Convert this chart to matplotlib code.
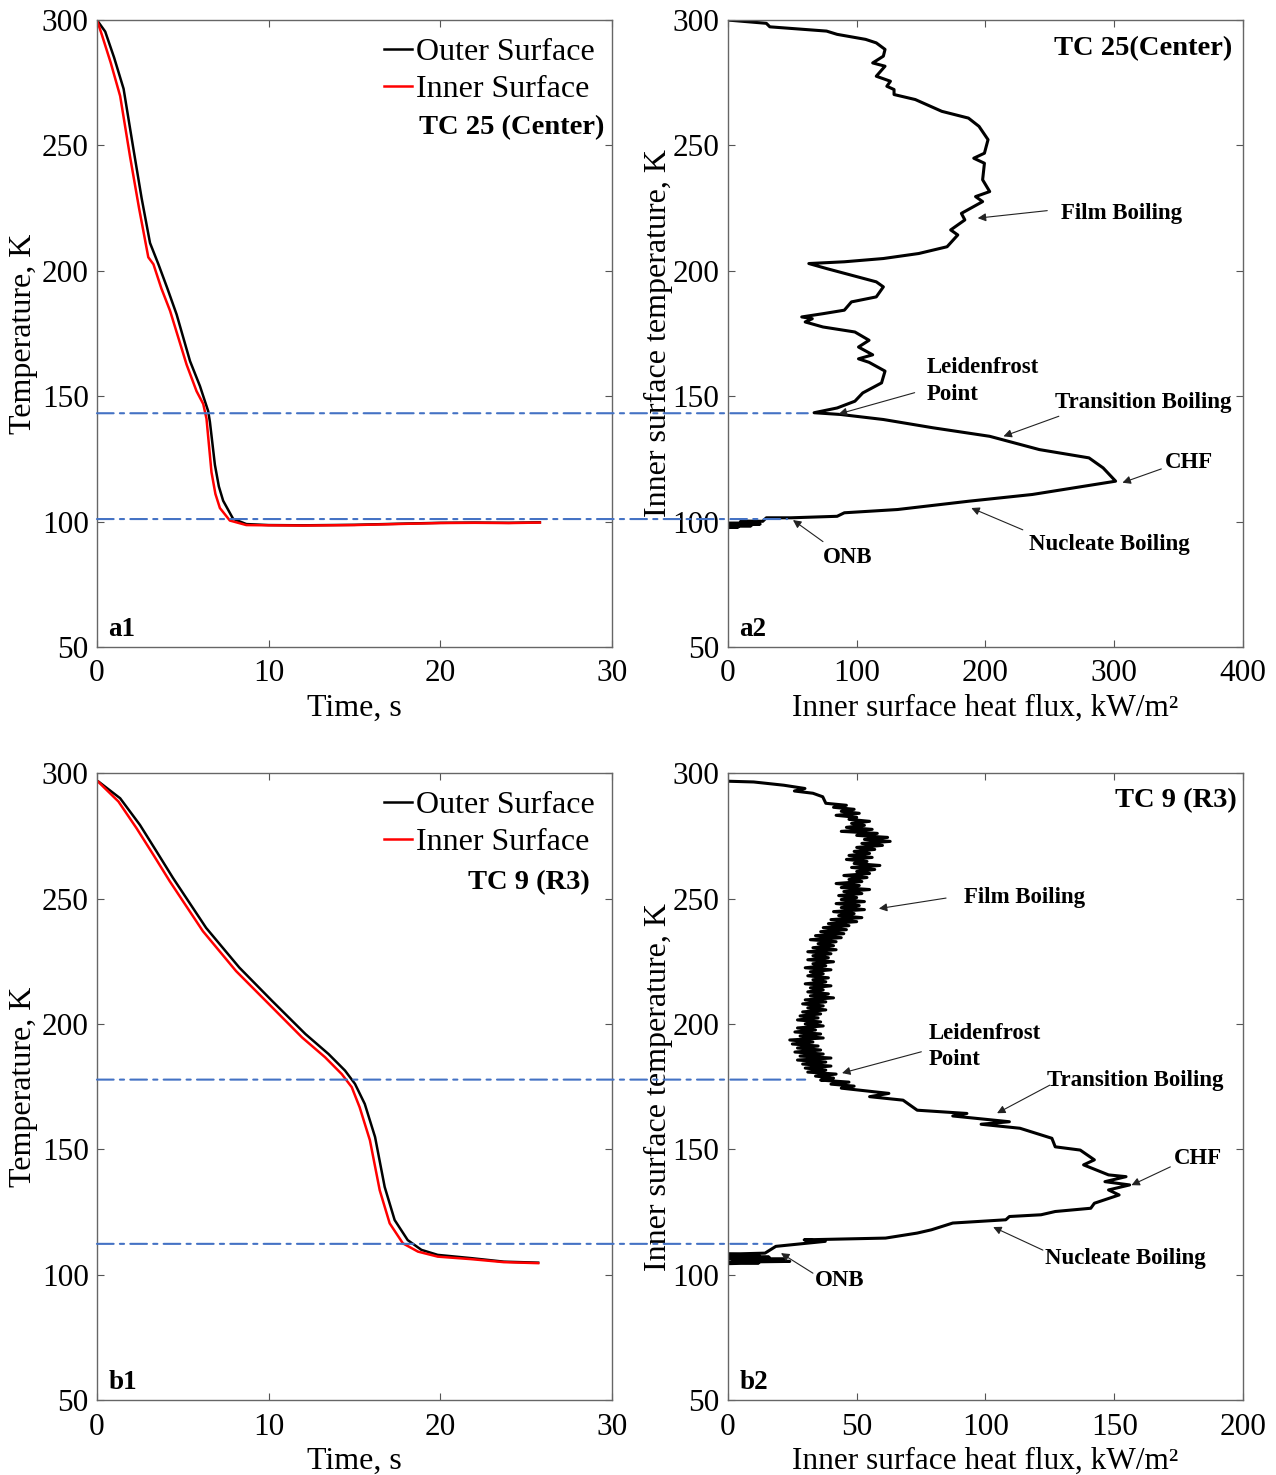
import matplotlib.pyplot as plt
from matplotlib.patches import ConnectionPatch

plt.rcParams['font.family'] = ['Liberation Serif', 'DejaVu Serif']

# ---- a1: TC 25 (Center) temperature history ----
a1_t_outer = [0, 0.48, 1.0, 1.55, 2.13, 2.6, 3.09, 3.58, 4.1, 4.64, 5.42, 6.0, 6.48, 6.58,
              6.87, 7.1, 7.35, 7.93, 8.7, 10, 12, 15, 18, 20, 22, 24, 25.8]
a1_T_outer = [300, 295.4, 285, 272.6, 248.3, 229, 211.1, 202.6, 193, 182.6, 164, 154, 144, 139.7,
              122.6, 114, 108.3, 101.1, 99.0, 98.6, 98.5, 98.7, 99.2, 99.5, 99.6, 99.5, 99.7]
a1_t_inner = [0, 0.29, 0.8, 1.35, 1.93, 2.45, 2.99, 3.29, 3.75, 4.26, 5.22, 5.8, 6.19, 6.38,
              6.67, 6.9, 7.16, 7.74, 8.7, 10, 12, 15, 18, 20, 22, 24, 25.8]
a1_T_inner = [300, 294, 283, 269.7, 245.4, 225, 205.4, 202.6, 193, 184, 162.6, 152, 146.9, 141,
              119.7, 111, 105.4, 100.4, 98.6, 98.5, 98.4, 98.6, 99.1, 99.4, 99.5, 99.4, 99.6]

# ---- a2: TC 25 boiling curve ----
a2_q = [0, 29.8, 32.5, 76.6, 84.8, 106.9, 115.2, 122, 120.7, 112.4, 122, 115.2, 126.2, 123.4, 129,
        129, 145.5, 166.1, 186.8, 195, 202, 199.2, 190.9, 199.2, 197.8, 203.3, 192.3, 197.8, 181.3,
        184, 173, 178.5, 170.2, 148.2, 120.7, 90.4, 62.8, 76.6, 115.2, 120.7, 115.2, 95.9, 90.4,
        73.8, 57.3, 65.5, 60, 73.8, 98.6, 109.6, 101.4, 112.4, 101.4, 109.6, 122, 119.3, 104.7,
        98.6, 84.8, 66.9, 87.6, 120.7, 159.2, 203.3, 241.9, 280.4, 291.4, 301.1, 236.4, 186.8,
        131.7, 90.4, 84.8, 49, 29.8, 27, 10, 22, 0, 25, 0, 18, 0, 8, 0]
a2_T = [300, 298.7, 297.3, 295.6, 294.3, 292.3, 290.9, 288.3, 285.6, 282.9, 281.6, 277.6, 275.6,
        273.6, 272.3, 270.3, 268.3, 263.6, 260.9, 257.6, 252.3, 246.9, 244.9, 242.9, 236.3, 231.6,
        229.6, 227.6, 222.9, 220.3, 216.3, 214.3, 209.6, 206.9, 204.9, 203.6, 202.9, 200.9, 195.6,
        193.6, 189.6, 187.6, 184.3, 182.9, 181.6, 180.9, 179.6, 177.6, 175.6, 172.3, 169.6, 166.5,
        164.9, 163.5, 160, 155.3, 151.3, 148, 145.3, 143.4, 142.7, 140.7, 137.4, 134, 128.7, 125.4,
        121.4, 116.1, 110.8, 108.1, 104.8, 103.5, 102.1, 101.5, 101.5, 100.1, 100.2, 99.6, 99.3,
        99.0, 98.6, 98.3, 98.0, 97.8, 97.6]

# ---- b1: TC 9 (R3) temperature history ----
b1_t_outer = [0, 0.1, 1.35, 2.5, 3.47, 4.43, 6.36, 8.29, 10.2, 12.14, 13.49, 14.45, 15.03, 15.6,
              16.2, 16.76, 17.34, 18.1, 18.9, 19.85, 21.8, 23.7, 25.7]
b1_T_outer = [297, 296.6, 290, 279.4, 268.8, 258.2, 238.3, 222.5, 209.2, 196, 188, 181.4, 176.1,
              168.1, 154.9, 135, 121.8, 113.8, 109.9, 107.9, 106.6, 105.2, 104.8]
b1_t_inner = [0, 0.1, 1.25, 2.31, 3.28, 4.24, 6.17, 8.1, 10.02, 11.95, 13.29, 14.26, 14.84, 15.3,
              15.9, 16.47, 17.05, 17.82, 18.7, 19.85, 21.8, 23.7, 25.7]
b1_T_inner = [297, 296.4, 288.7, 278, 267.5, 256.9, 237, 221.1, 207.9, 194.6, 186.7, 180, 174.8,
              166.8, 153.6, 133.7, 120.5, 112.5, 109.2, 107.2, 106.2, 105, 104.6]

# ---- b2: TC 9 boiling curve ----
b2_q = [0, 10, 21.7, 29.9, 25.8, 33, 36.8, 38, 46, 41, 49, 44, 51, 42, 50, 47, 55, 48, 53, 46, 56,
        44, 58, 50, 62, 53, 63, 52, 60, 50, 57, 49, 55, 47, 56, 46, 54, 49, 59, 48, 57, 50, 55, 45,
        54, 47, 52, 42, 51, 44, 55, 45, 52, 43, 50, 44, 53, 42, 51, 44, 53, 41, 49, 43, 52, 40, 50,
        39, 47, 37, 46, 36, 45, 34, 44, 32, 42, 35, 41, 33, 42, 31, 40, 33, 39, 31, 41, 33, 38, 30,
        40, 32, 37, 31, 39, 33, 38, 30, 40, 32, 37, 31, 39, 32, 41, 30, 38, 29, 37, 31, 38, 29, 36,
        28, 35, 27, 36, 30, 37, 27, 34, 26, 36, 28, 37, 24, 33, 25, 35, 27, 36, 26, 37, 28, 40, 27,
        38, 29, 40, 30, 38, 31, 42, 34, 41, 36, 47, 40, 49, 44, 62.5, 55, 68, 73.5, 92.8, 87.3,
        109.3, 98.3, 113.4, 125.8, 127.1, 136.8, 142.3, 138.1, 147.8, 154.6, 146.4, 156, 147.8,
        151.9, 142.3, 140.9, 127.1, 121.6, 109.3, 107.9, 87.3, 79, 73.5, 61.2, 29.6, 37.8, 18.6,
        14.4, 0, 12, 0, 16, 0, 22, 2, 24, 0, 12, 0]
b2_T = [296.8, 296.5, 295.2, 293.9, 292.9, 292, 290.6, 288.0, 287.2, 286.4, 285.6, 284.8, 284.0,
        283.2, 282.4, 281.6, 280.8, 280.0, 279.2, 278.4, 277.6, 276.8, 276.0, 275.2, 274.4, 273.6,
        272.8, 272.0, 271.2, 270.4, 269.6, 268.8, 268.0, 267.2, 266.4, 265.6, 264.8, 264.0, 263.2,
        262.4, 261.6, 260.8, 260.0, 259.2, 258.4, 257.6, 256.8, 256.0, 255.2, 254.4, 253.6, 252.8,
        252.0, 251.2, 250.4, 249.6, 248.8, 248.0, 247.2, 246.4, 245.6, 244.8, 244.0, 243.2, 242.4,
        241.6, 240.8, 240.0, 239.2, 238.4, 237.6, 236.8, 236.0, 235.2, 234.4, 233.6, 232.8, 232.0,
        231.2, 230.4, 229.6, 228.8, 228.0, 227.2, 226.4, 225.6, 224.8, 224.0, 223.2, 222.4, 221.6,
        220.8, 220.0, 219.2, 218.4, 217.6, 216.8, 216.0, 215.2, 214.4, 213.6, 212.8, 212.0, 211.2,
        210.4, 209.6, 208.8, 208.0, 207.2, 206.4, 205.6, 204.8, 204.0, 203.2, 202.4, 201.6, 200.8,
        200.0, 199.2, 198.4, 197.6, 196.8, 196.0, 195.2, 194.4, 193.6, 192.8, 192.0, 191.2, 190.4,
        189.6, 188.8, 188.0, 187.2, 186.4, 185.6, 184.8, 184.0, 183.2, 182.4, 181.6, 180.8, 180.0,
        179.2, 178.4, 177.6, 176.8, 176.0, 175.2, 174.4, 172.3, 171.0, 169.6, 165.6, 164.3, 163.3,
        161, 160, 158.4, 154.4, 151, 149.7, 145.8, 143.8, 139.8, 139.1, 137.1, 135.8, 133.8, 131.8,
        128.5, 126.5, 125.2, 123.9, 123.2, 121.9, 120.6, 117.9, 116.6, 114.6, 113.9, 113.3, 111.3,
        108.6, 108.2, 107.8, 107.4, 107.0, 106.6, 106.2, 105.8, 105.3, 105.0, 104.7, 104.4]

# Leidenfrost point and ONB (temperature, heat flux where the guide line stops)
a_marks_T = [143.2, 101.0]
a_marks_q = [62, 46]
b_marks_T = [177.8, 112.3]
b_marks_q = [30, 17]

fig = plt.figure(figsize=(12.76, 14.75), dpi=100)
ax1 = fig.add_axes([0.076, 0.5614, 0.4036, 0.425])
ax2 = fig.add_axes([0.5705, 0.5614, 0.4036, 0.425])
ax3 = fig.add_axes([0.076, 0.0508, 0.4036, 0.425])
ax4 = fig.add_axes([0.5705, 0.0508, 0.4036, 0.425])


def style(ax, xmax, xstep):
    ax.set_xlim(0, xmax)
    ax.set_ylim(50, 300)
    ax.set_xticks(range(0, xmax + 1, xstep))
    ax.set_yticks(range(50, 301, 50))
    ax.tick_params(direction='in', top=True, right=True, length=5, width=0.8,
                   labelsize=22.5, color='#555555')
    ax.tick_params(axis='x', pad=9)
    ax.tick_params(axis='y', pad=6)
    for s in ax.spines.values():
        s.set_color('#666666')
        s.set_linewidth(1.0)


for ax in (ax1, ax3):
    style(ax, 30, 10)
    ax.set_xlabel('Time, s', fontsize=23, labelpad=4)
    ax.set_ylabel('Temperature, K', fontsize=23, labelpad=3)
style(ax2, 400, 100)
style(ax4, 200, 50)
for ax in (ax2, ax4):
    ax.set_xlabel('Inner surface heat flux, kW/m²', fontsize=22.5, labelpad=4)
    ax.set_ylabel('Inner surface temperature, K', fontsize=23, labelpad=0)

# temperature histories
ax1.plot(a1_t_outer, a1_T_outer, color='black', lw=1.8, label='Outer Surface')
ax1.plot(a1_t_inner, a1_T_inner, color='red', lw=1.8, label='Inner Surface')
ax3.plot(b1_t_outer, b1_T_outer, color='black', lw=1.8, label='Outer Surface')
ax3.plot(b1_t_inner, b1_T_inner, color='red', lw=1.8, label='Inner Surface')
for ax in (ax1, ax3):
    ax.legend(loc='upper right', frameon=False, fontsize=23, handlelength=0.9,
              handletextpad=0.1, labelspacing=0.25, borderaxespad=0.2, borderpad=0.35)

ax1.text(0.985, 0.828, 'TC 25 (Center)', transform=ax1.transAxes, ha='right', va='center',
         fontsize=20.5, fontweight='bold')
ax3.text(0.957, 0.826, 'TC 9 (R3)', transform=ax3.transAxes, ha='right', va='center',
         fontsize=20.5, fontweight='bold')

# boiling curves
ax2.plot(a2_q, a2_T, color='black', lw=2.2)
ax4.plot(b2_q, b2_T, color='black', lw=2.2)
ax2.text(0.979, 0.955, 'TC 25(Center)', transform=ax2.transAxes, ha='right', va='center',
         fontsize=20.5, fontweight='bold')
ax4.text(0.988, 0.957, 'TC 9 (R3)', transform=ax4.transAxes, ha='right', va='center',
         fontsize=20.5, fontweight='bold')

# panel tags
for ax, tag in ((ax1, 'a1'), (ax2, 'a2'), (ax3, 'b1'), (ax4, 'b2')):
    ax.text(0.022, 0.018, tag, transform=ax.transAxes, fontsize=19.5, fontweight='bold')

# guide lines from the temperature plot to the boiling curve
for axl, axr, Ts, qs in ((ax1, ax2, a_marks_T, a_marks_q), (ax3, ax4, b_marks_T, b_marks_q)):
    for T, q in zip(Ts, qs):
        con = ConnectionPatch(xyA=(0, T), coordsA='data', axesA=axl,
                              xyB=(q, T), coordsB='data', axesB=axr,
                              color='#4472C4', lw=1.5, linestyle=(0, (8, 3, 2, 3)))
        fig.add_artist(con)

# annotations: (text, text x, text y, arrow start, arrow tip)
a2_notes = [('Film Boiling', 258.6, 223, (248, 224), (194, 221)),
            ('Leidenfrost\nPoint', 154, 156, (145, 151.4), (86, 142.9)),
            ('Transition Boiling', 254, 147.4, (257, 142), (214, 134)),
            ('CHF', 339.5, 123.5, (336.6, 121), (306.4, 115.5)),
            ('Nucleate Boiling', 234, 90.7, (229, 96.7), (189, 105.4)),
            ('ONB', 73.8, 85.5, (73.8, 92), (50.5, 100.6))]
b2_notes = [('Film Boiling', 91.7, 250.4, (84.7, 250.2), (58.6, 246)),
            ('Leidenfrost\nPoint', 77.9, 191, (75.1, 188.9), (44.3, 180.4)),
            ('Transition Boiling', 124, 177.6, (125, 175.6), (104.5, 164.4)),
            ('CHF', 173, 146.5, (171.8, 143), (156.7, 135.7)),
            ('Nucleate Boiling', 123, 106.5, (122.3, 109.8), (103, 119)),
            ('ONB', 33.7, 97.8, (33, 100.6), (20.6, 108.6))]
for ax, notes in ((ax2, a2_notes), (ax4, b2_notes)):
    for txt, x, y, start, tip in notes:
        ax.text(x, y, txt, fontsize=16.5, fontweight='bold', ha='left', va='center',
                linespacing=1.35)
        ax.annotate('', xy=tip, xytext=start,
                    arrowprops=dict(arrowstyle='-|>', color='#222222', lw=0.8,
                                    mutation_scale=12, shrinkA=0, shrinkB=0))

fig.savefig('out.png', dpi=100)
